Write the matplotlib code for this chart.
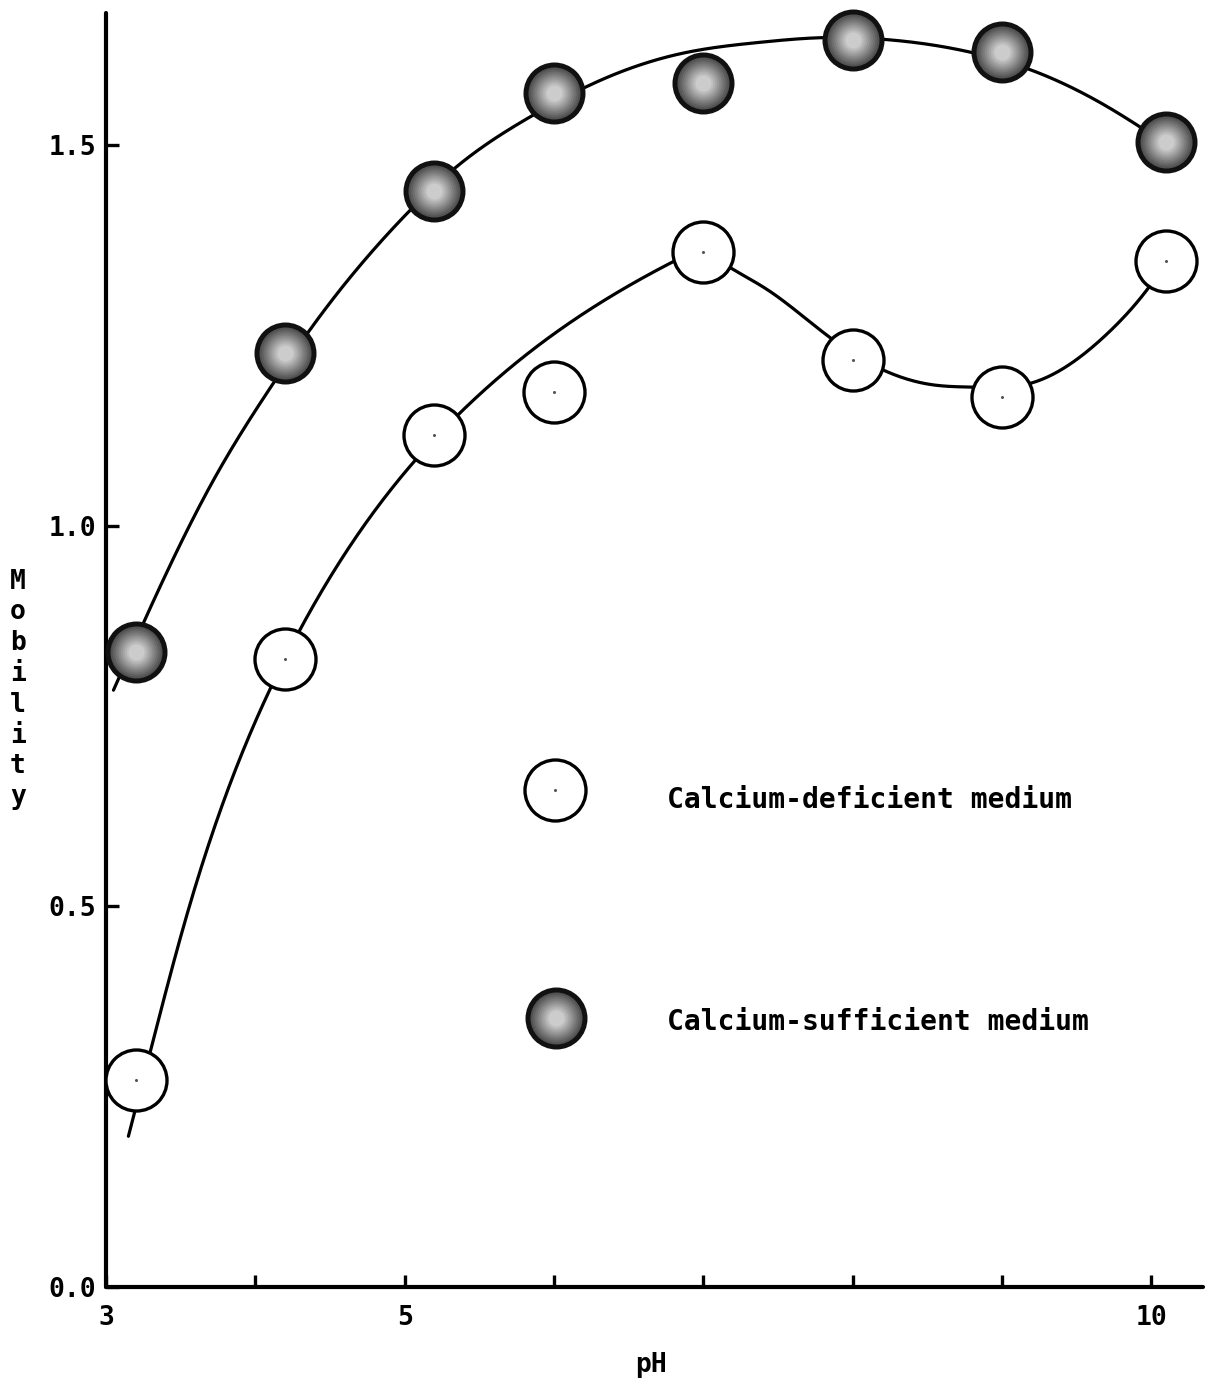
import numpy as np
import matplotlib
matplotlib.use("Agg")
import matplotlib.pyplot as plt

# Measured electrophoretic mobility against pH
ph_deficient = [3.2, 4.2, 5.2, 6.0, 7.0, 8.0, 9.0, 10.1]
mob_deficient = [0.272, 0.825, 1.119, 1.176, 1.360, 1.218, 1.169, 1.348]

ph_sufficient = [3.2, 4.2, 5.2, 6.0, 7.0, 8.0, 9.0, 10.1]
mob_sufficient = [0.834, 1.227, 1.440, 1.568, 1.581, 1.638, 1.622, 1.504]

# Hand-drawn trend curves (points along each curve)
curve_suff_x = [3.05, 3.25, 3.72, 4.12, 4.35, 5.02, 5.32, 5.84, 6.31, 6.87,
                7.38, 7.78, 8.20, 8.79, 9.19, 9.71, 10.08]
curve_suff_y = [0.784, 0.872, 1.060, 1.187, 1.253, 1.411, 1.467, 1.537, 1.585,
                1.621, 1.635, 1.641, 1.639, 1.622, 1.599, 1.550, 1.504]

curve_def_x = [3.15, 3.30, 3.52, 3.81, 4.20, 5.37, 6.78,
               6.98, 7.17, 7.43, 7.85, 8.20, 8.54, 8.81, 9.19, 9.71, 9.98, 10.11]
curve_def_y = [0.198, 0.312, 0.474, 0.650, 0.826, 1.148, 1.345,
               1.357, 1.340, 1.310, 1.247, 1.205, 1.185, 1.182, 1.187,
               1.253, 1.312, 1.348]

x_ticks = [3, 4, 5, 6, 7, 8, 9, 10]
x_ticklabels = ["3", "", "5", "", "", "", "", "10"]
y_ticks = [0.0, 0.5, 1.0, 1.5]
y_ticklabels = ["0.0", "0.5", "1.0", "1.5"]

legend_deficient = "Calcium-deficient medium"
legend_sufficient = "Calcium-sufficient medium"


def natural_spline(xk, yk, xs):
    xk = np.asarray(xk, float)
    yk = np.asarray(yk, float)
    n = len(xk)
    h = np.diff(xk)
    A = np.zeros((n, n))
    r = np.zeros(n)
    A[0, 0] = A[-1, -1] = 1.0
    for i in range(1, n - 1):
        A[i, i - 1] = h[i - 1]
        A[i, i] = 2 * (h[i - 1] + h[i])
        A[i, i + 1] = h[i]
        r[i] = 3 * ((yk[i + 1] - yk[i]) / h[i] - (yk[i] - yk[i - 1]) / h[i - 1])
    c = np.linalg.solve(A, r)
    b = (yk[1:] - yk[:-1]) / h - h * (2 * c[:-1] + c[1:]) / 3
    d = (c[1:] - c[:-1]) / (3 * h)
    idx = np.clip(np.searchsorted(xk, xs) - 1, 0, n - 2)
    dx = xs - xk[idx]
    return yk[idx] + b[idx] * dx + c[idx] * dx ** 2 + d[idx] * dx ** 3


MONO = "DejaVu Sans Mono"
plt.rcParams["font.family"] = [MONO, "DejaVu Sans"]

fig = plt.figure(figsize=(12.08, 13.79), dpi=100)
ax = fig.add_axes([106 / 1208, 1 - 1287 / 1379, 1097 / 1208, 1274 / 1379])
ax.set_xlim(3, 10.347)
ax.set_ylim(0, 1.6735)

for side in ("top", "right"):
    ax.spines[side].set_visible(False)
for side in ("left", "bottom"):
    ax.spines[side].set_linewidth(3.0)
    ax.spines[side].set_capstyle("round")

ax.set_xticks(x_ticks)
ax.set_xticklabels(x_ticklabels)
ax.set_yticks(y_ticks)
ax.set_yticklabels(y_ticklabels)
ax.tick_params(axis="both", direction="in", length=9, width=2.4,
               labelsize=19)
ax.tick_params(axis="x", pad=13)
ax.tick_params(axis="y", pad=7)
for lab in ax.get_xticklabels() + ax.get_yticklabels():
    lab.set_fontweight("bold")

# Trend curves
xs = np.linspace(curve_suff_x[0], curve_suff_x[-1], 600)
ax.plot(xs, natural_spline(curve_suff_x, curve_suff_y, xs), color="black",
        lw=2.3, zorder=2, solid_capstyle="round")
xs = np.linspace(curve_def_x[0], curve_def_x[-1], 600)
ax.plot(xs, natural_spline(curve_def_x, curve_def_y, xs), color="black",
        lw=2.3, zorder=2, solid_capstyle="round")

# Shaded (calcium-sufficient) markers: black rim fading to a pale centre
px = 0.72  # points per pixel at 100 dpi
rim_radius = 31
shade_radii = np.linspace(26, 8, 10)
shade_greys = np.linspace(0.32, 0.80, 10)


def shaded_markers(x, y, z=3):
    ax.plot(x, y, ls="none", marker="o", ms=2 * rim_radius * px,
            mfc="#111111", mec="none", zorder=z, clip_on=False)
    for r, g in zip(shade_radii, shade_greys):
        ax.plot(x, y, ls="none", marker="o", ms=2 * r * px, mfc=str(g),
                mec="none", zorder=z, clip_on=False)


def open_markers(x, y, z=3):
    ax.plot(x, y, ls="none", marker="o", ms=2 * 30.5 * px, mfc="white",
            mec="black", mew=2.4, zorder=z, clip_on=False)
    ax.plot(x, y, ls="none", marker="o", ms=2.2, mfc="#555555",
            mec="none", zorder=z + 0.1, clip_on=False)


shaded_markers(ph_sufficient, mob_sufficient)
open_markers(ph_deficient, mob_deficient)

# Key
open_markers([6.007], [0.653])
shaded_markers([6.014], [0.353])
ax.text(6.758, 0.640, legend_deficient, fontsize=20.2, fontweight="bold",
        ha="left", va="center", family=MONO)
ax.text(6.758, 0.348, legend_sufficient, fontsize=20.2, fontweight="bold",
        ha="left", va="center", family=MONO)

# Axis titles
ax.set_xlabel("pH", fontsize=19, fontweight="bold", va="center")
ax.xaxis.set_label_coords(0.497, -0.061)
ax.set_ylabel("\n".join("Mobility"), rotation=0, fontsize=19,
              fontweight="bold", ha="center", va="center", linespacing=1.24)
ax.yaxis.set_label_coords(-0.0802, 0.469)

fig.savefig("out.png", dpi=100, facecolor="white")
